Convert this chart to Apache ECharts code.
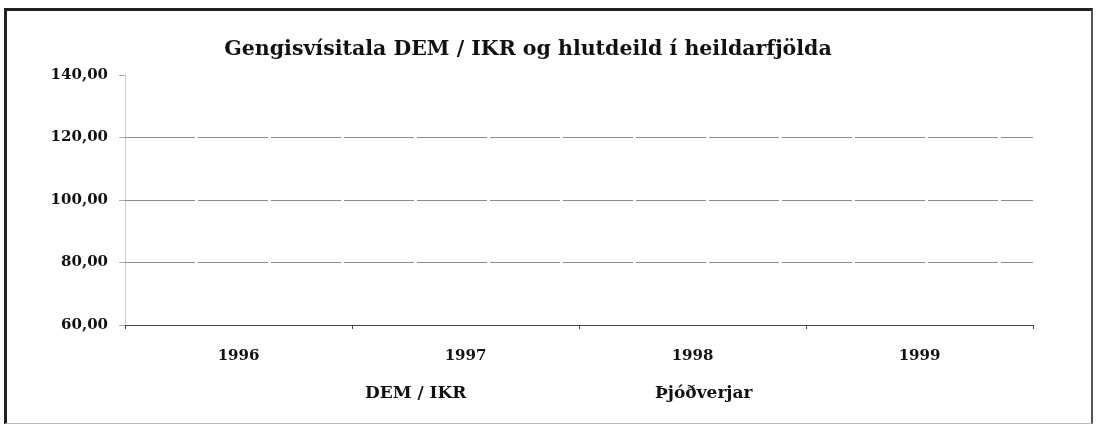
<!DOCTYPE html>
<html>
<head>
<meta charset="utf-8">
<script src="https://cdn.jsdelivr.net/npm/echarts@6/dist/echarts.min.js"></script>
<style>
    html, body { margin: 0; padding: 0; background: #fff; }
    #frame {
        position: absolute;
        left: 4px;
        top: 8px;
        width: 1084px;
        height: 412px;
        border-top: 3px solid #222;
        border-left: 3px solid #222;
        border-right: 2px solid #555;
        border-bottom: 1px solid #bbb;
    }
    #chart { width: 100%; height: 100%; }
</style>
</head>
<body>
<div id="frame"><div id="chart"></div></div>
<script>
const years = ['1996', '1997', '1998', '1999'];
const yTicks = [60, 80, 100, 120, 140];
const gridValues = [80, 100, 120];
// series lines do not show in the scan, only their legend names remain
const seriesNames = ['DEM / IKR', 'Þjóðverjar'];
const demIkr = [null, null, null, null];
const thjodverjar = [null, null, null, null];

const serif = '"DejaVu Serif", "Liberation Serif", serif';
const ink = '#111';

function legendAt(name, left) {
    return {
        data: [name],
        left: left,
        top: 369,
        itemWidth: 0,
        itemHeight: 0,
        icon: 'rect',
        itemStyle: { color: 'transparent' },
        textStyle: {
            fontFamily: serif,
            fontSize: 17,
            fontWeight: 'bold',
            color: ink,
            padding: [0, 0, 0, -5]
        }
    };
}

const option = {
    animation: false,
    title: {
        text: 'Gengisvísitala DEM / IKR og hlutdeild í heildarfjölda',
        left: 516,
        top: 23,
        textAlign: 'center',
        textStyle: {
            fontFamily: serif,
            fontSize: 20.5,
            fontWeight: 'bold',
            color: ink
        }
    },
    legend: [
        legendAt(seriesNames[0], 353),
        legendAt(seriesNames[1], 643)
    ],
    grid: {
        left: 118,
        right: 58,
        top: 64,
        bottom: 98
    },
    xAxis: {
        type: 'category',
        data: years,
        boundaryGap: true,
        axisLine: { lineStyle: { color: '#444', width: 1 } },
        axisTick: { show: true, length: 4, lineStyle: { color: '#444' } },
        axisLabel: {
            margin: 24,
            fontFamily: serif,
            fontSize: 15,
            fontWeight: 'bold',
            color: ink
        }
    },
    yAxis: {
        type: 'value',
        min: yTicks[0],
        max: yTicks[yTicks.length - 1],
        interval: 20,
        axisLine: { show: true, lineStyle: { color: '#ccc' } },
        axisTick: { show: true, length: 6, lineStyle: { color: '#aaa' } },
        splitLine: { show: false },
        axisLabel: {
            margin: 17,
            fontFamily: serif,
            fontSize: 15,
            fontWeight: 'bold',
            color: ink,
            formatter: function (v) { return v.toFixed(2).replace('.', ','); }
        }
    },
    series: [
        {
            name: seriesNames[0],
            type: 'line',
            data: demIkr,
            showSymbol: false,
            lineStyle: { color: 'transparent' },
            itemStyle: { color: 'transparent' },
            markLine: {
                silent: true,
                symbol: 'none',
                label: { show: false },
                lineStyle: { color: '#8c8c8c', width: 1, type: [70, 3] },
                data: gridValues.map(function (v) { return { yAxis: v }; })
            }
        },
        {
            name: seriesNames[1],
            type: 'line',
            data: thjodverjar,
            showSymbol: false,
            lineStyle: { color: 'transparent' },
            itemStyle: { color: 'transparent' }
        }
    ]
};

const chart = echarts.init(document.getElementById('chart'));
chart.setOption(option);
</script>
</body>
</html>
